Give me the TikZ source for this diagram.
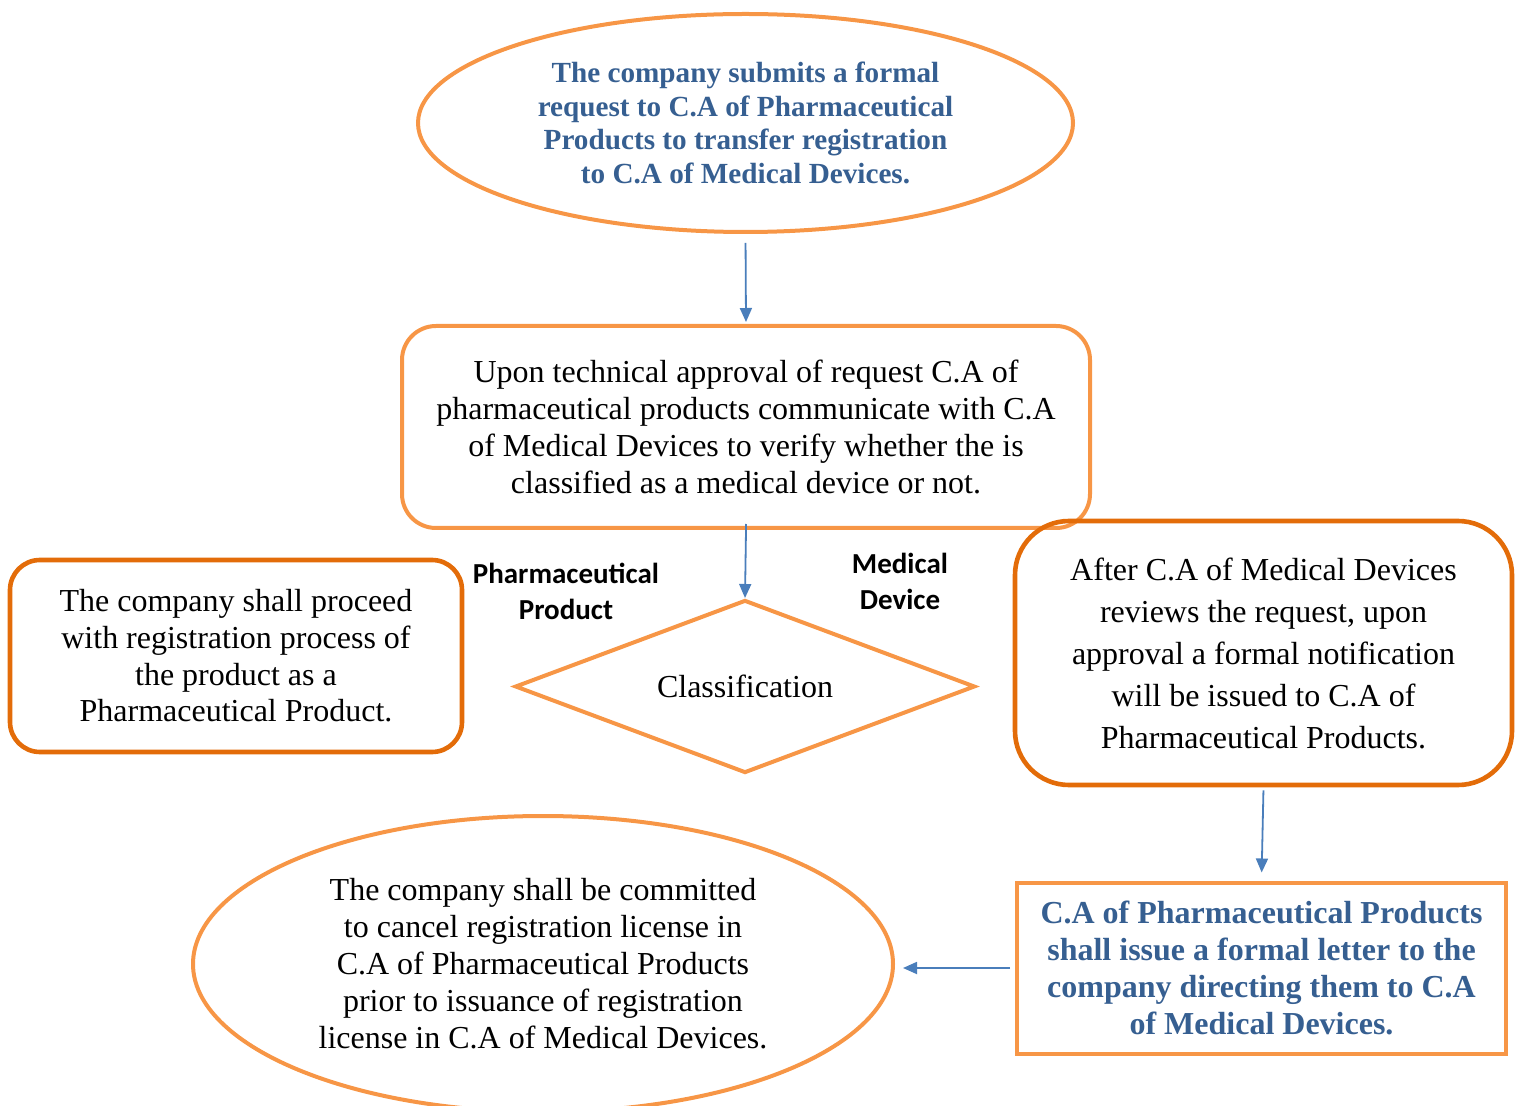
\documentclass[tikz,border=0pt]{standalone}
\usepackage{fontspec}
\setmainfont{Liberation Serif}
\newfontfamily\calib{Carlito}
\usetikzlibrary{shapes.geometric,arrows.meta}
\definecolor{lor}{RGB}{247,150,70}
\definecolor{dor}{RGB}{227,108,9}
\definecolor{tblue}{RGB}{54,95,145}
\definecolor{ablue}{RGB}{74,126,187}
\begin{document}
\begin{tikzpicture}[x=0.5pt,y=-0.5pt,
  ell/.style={ellipse,draw=lor,line width=2pt,align=center,inner sep=0pt},
  lbox/.style={rectangle,draw=lor,line width=2pt,align=center,inner sep=0pt},
  dbox/.style={rectangle,draw=dor,line width=2.3pt,align=center,inner sep=0pt},
  dia/.style={diamond,draw=lor,line width=2pt,inner sep=0pt,aspect=2.66},
  lab/.style={align=center,font=\calib\bfseries\fontsize{14.5}{18}\selectfont},
  body/.style={font=\fontsize{16}{18.5}\selectfont},
  conn/.style={draw=ablue,line width=0.9pt,-{Triangle[length=7pt,width=6pt]}}]
\clip (0,0) rectangle (1520,1106);

\node[ell,minimum width=327.5pt,minimum height=109pt,text=tblue,
  font=\bfseries\fontsize{14.6}{16.75}\selectfont] (top) at (745.5,123)
  {The company submits a formal\\request to C.A of Pharmaceutical\\Products to transfer registration\\to C.A of Medical Devices.};

\node[lbox,rounded corners=17pt,minimum width=344pt,minimum height=101pt,body] (mid) at (746,427)
  {Upon technical approval of request C.A of\\pharmaceutical products communicate with C.A\\of Medical Devices to verify whether the is\\classified as a medical device or not.};

\node[dia,minimum width=230pt,minimum height=86.5pt,body] (cls) at (745,686.5) {Classification};

\node[dbox,rounded corners=15pt,minimum width=226pt,minimum height=96pt,font=\fontsize{16}{18.35}\selectfont] (lbx) at (236,656)
  {The company shall proceed\\with registration process of\\the product as a\\Pharmaceutical Product.};

\node[dbox,rounded corners=27pt,minimum width=248.5pt,minimum height=132pt,font=\fontsize{16}{21}\selectfont] (rbx) at (1263.5,653)
  {After C.A of Medical Devices\\reviews the request, upon\\approval a formal notification\\will be issued to C.A of\\Pharmaceutical Products.};

\node[lbox,minimum width=244.5pt,minimum height=85.5pt,text=tblue,font=\bfseries\fontsize{16}{18.5}\selectfont] (brb) at (1261.5,968)
  {C.A of Pharmaceutical Products\\shall issue a formal letter to the\\company directing them to C.A\\of Medical Devices.};

\node[ell,minimum width=350pt,minimum height=148pt,body] (bel) at (543,964)
  {The company shall be committed\\to cancel registration license in\\C.A of Pharmaceutical Products\\prior to issuance of registration\\license in C.A of Medical Devices.};

\node[lab] (lph) at (566,591) {Pharmaceutical\\Product};
\node[lab] (lmd) at (900,581) {Medical\\Device};

\draw[conn,shorten <=4.5pt,shorten >=1pt] (top.south) -- (mid.north);
\draw[conn,shorten <=-3pt] (mid.south) -- (cls.north);
\draw[conn,shorten <=1.5pt,shorten >=4pt] (rbx.south) -- (brb.north);
\draw[conn,shorten <=2.5pt,shorten >=4pt] (brb.west) -- (brb.west -| bel.east);
\end{tikzpicture}
\end{document}
